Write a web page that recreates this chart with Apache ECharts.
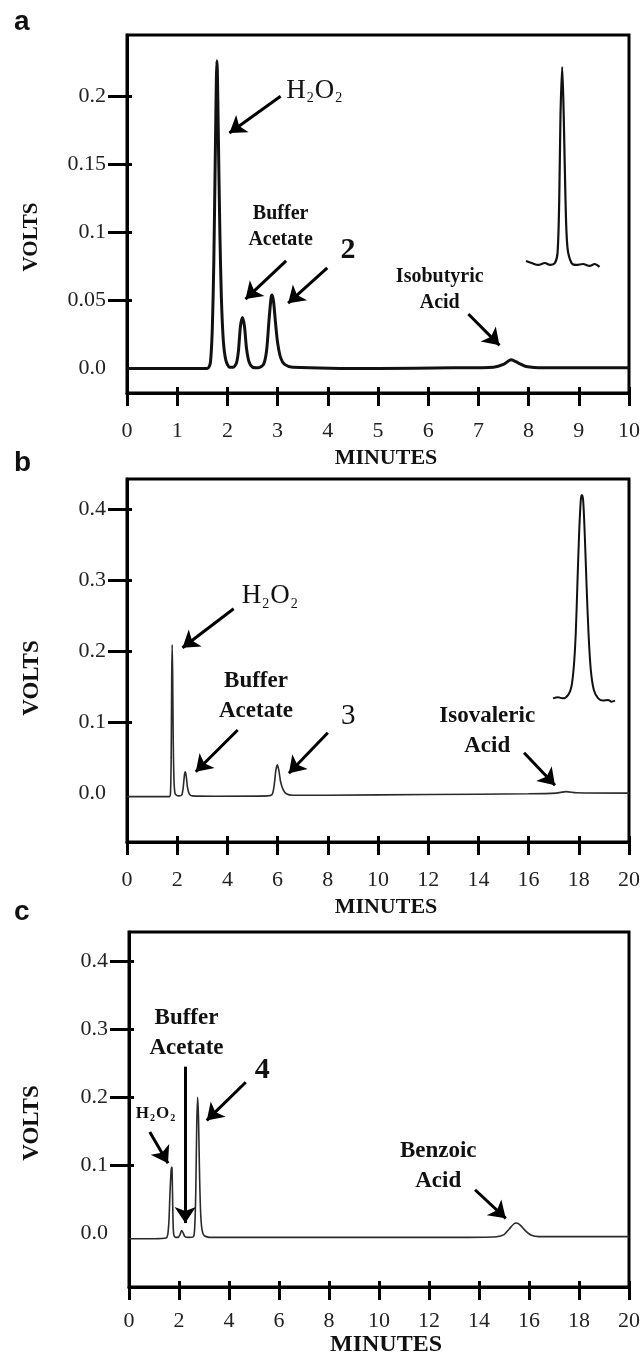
<!DOCTYPE html>
<html>
<head>
<meta charset="utf-8">
<script src="https://cdn.jsdelivr.net/npm/echarts@6/dist/echarts.min.js"></script>
<style>
  html, body { margin: 0; padding: 0; background: #fff; }
  #chart { width: 643px; height: 1354px; }
</style>
</head>
<body>
<div id="chart"></div>
<script>
// chromatograms, [minutes, volts]
var traceA = [[0,0.000],[1.0,0.000],[1.60,0.000],[1.66,0.004],[1.70,0.03],[1.73,0.08],[1.76,0.16],[1.78,0.212],[1.79,0.226],[1.80,0.219],[1.82,0.17],[1.85,0.10],[1.88,0.052],[1.92,0.02],[1.97,0.006],[2.04,0.001],[2.12,0.001],[2.18,0.004],[2.22,0.013],[2.26,0.031],[2.30,0.0375],[2.34,0.031],[2.38,0.015],[2.43,0.005],[2.50,0.001],[2.62,0.0005],[2.72,0.003],[2.78,0.013],[2.83,0.036],[2.87,0.052],[2.89,0.054],[2.92,0.049],[2.96,0.033],[3.00,0.019],[3.06,0.008],[3.14,0.003],[3.30,0.001],[5.0,0.000],[6.5,0.0005],[7.3,0.001],[7.5,0.003],[7.65,0.0065],[7.8,0.004],[7.95,0.0015],[8.3,0.0005],[10,0.0005]];
var traceB = [[0,-0.005],[1.0,-0.005],[1.68,-0.005],[1.73,-0.002],[1.76,0.05],[1.78,0.16],[1.80,0.209],[1.82,0.165],[1.84,0.08],[1.87,0.02],[1.91,0.0],[1.97,-0.003],[2.06,-0.004],[2.18,-0.003],[2.24,0.008],[2.29,0.026],[2.32,0.030],[2.36,0.024],[2.41,0.008],[2.48,-0.001],[2.6,-0.004],[3.5,-0.0045],[5.6,-0.004],[5.78,-0.002],[5.86,0.01],[5.93,0.032],[5.99,0.040],[6.05,0.032],[6.12,0.016],[6.22,0.005],[6.35,-0.001],[6.6,-0.003],[8,-0.003],[12,-0.002],[16,-0.001],[17.1,0.0],[17.5,0.002],[17.9,0.0005],[20,0.0]];
var traceC = [[0,-0.008],[1.0,-0.008],[1.48,-0.007],[1.55,-0.002],[1.60,0.02],[1.64,0.06],[1.68,0.09],[1.70,0.097],[1.72,0.096],[1.74,0.06],[1.76,0.02],[1.79,-0.002],[1.86,-0.006],[1.96,-0.006],[2.04,-0.002],[2.10,0.004],[2.16,0.001],[2.24,-0.005],[2.40,-0.006],[2.58,-0.005],[2.63,0.01],[2.67,0.06],[2.71,0.16],[2.745,0.200],[2.78,0.17],[2.82,0.09],[2.86,0.035],[2.91,0.008],[3.0,-0.003],[3.3,-0.006],[8,-0.006],[13,-0.006],[14.7,-0.005],[15.0,-0.002],[15.2,0.006],[15.4,0.014],[15.5,0.015],[15.65,0.012],[15.85,0.004],[16.1,-0.003],[16.4,-0.005],[20,-0.005]];

// zoomed insets (relative units, baseline 0, peak 100)
var insetA = [[0,1],[7.6,0],[16.6,-1],[25.6,0],[32.3,-1],[39,0],[42.6,5],[44.9,32],[46.6,75],[48.9,100],[51,75],[53.4,32],[56,8],[61.5,0],[68,-1],[77,-0.5],[86,-1.5],[92.7,-0.5],[99.4,-2]];
var insetB = [[0,0.8],[8.1,1.3],[16.2,0.8],[24.3,2.4],[29.7,6.5],[33.5,16],[36.7,32.5],[39.4,57],[42.1,81],[44.8,97.5],[46.4,100],[48.6,97.5],[51.3,80],[54,57],[57.3,32.5],[61,14.6],[65.9,4.9],[72.9,0.8],[81,-0.3],[89.1,0],[94.5,-0.8],[100,-0.3]];

// tick values / labels
var yTicksA = [0, 0.05, 0.1, 0.15, 0.2];
var yLabelsA = ['0.0', '0.05', '0.1', '0.15', '0.2'];
var yTicksBC = [0, 0.1, 0.2, 0.3, 0.4];
var yLabelsBC = ['0.0', '0.1', '0.2', '0.3', '0.4'];

// arrows [x1, y1, x2, y2] in minutes / volts
var arrowsA = [[3.06,0.200,2.04,0.173],[3.17,0.079,2.36,0.051],[3.99,0.074,3.21,0.048],[6.80,0.040,7.42,0.017]];
var arrowsB = [[4.25,0.260,2.21,0.205],[4.41,0.089,2.74,0.030],[8.00,0.085,6.45,0.028],[15.82,0.057,17.05,0.011]];
var arrowsC = [[2.25,0.245,2.25,0.015],[4.67,0.222,3.11,0.166],[0.83,0.149,1.56,0.103],[13.84,0.064,15.07,0.022]];

// peak labels [text, x, y, kind]
var labelsA = [['h2o2',3.17,0.204,'formulaBig'],['Buffer\nAcetate',3.06,0.104,'nameA'],['2',4.40,0.087,'num'],['Isobutyric\nAcid',6.23,0.058,'nameA']];
var labelsB = [['h2o2',4.57,0.278,'formulaBig'],['Buffer\nAcetate',5.14,0.137,'name'],['3',8.81,0.108,'numThin'],['Isovaleric\nAcid',14.35,0.088,'name']];
var labelsC = [['h2o2',1.08,0.176,'formulaSmall'],['Buffer\nAcetate',2.30,0.294,'name'],['4',5.33,0.240,'num'],['Benzoic\nAcid',12.37,0.099,'name']];

var SERIF = '"Liberation Serif", "Times New Roman", serif';

var panels = [
  {top: 35,  height: 358, left: 127, xMax: 10, xStep: 1, yMin: -0.018, yMax: 0.245, ticks: yTicksA,  tickLabels: yLabelsA,  trace: traceA, width: 3,   color: '#111', arrows: arrowsA, labels: labelsA, labelGap: 27},
  {top: 479, height: 363, left: 127, xMax: 20, xStep: 2, yMin: -0.069, yMax: 0.443, ticks: yTicksBC, tickLabels: yLabelsBC, trace: traceB, width: 1.6, color: '#2a2a2a', arrows: arrowsB, labels: labelsB, labelGap: 27},
  {top: 932, height: 355, left: 129, xMax: 20, xStep: 2, yMin: -0.079, yMax: 0.443, ticks: yTicksBC, tickLabels: yLabelsBC, trace: traceC, width: 1.6, color: '#2a2a2a', arrows: arrowsC, labels: labelsC, labelGap: 23}
];

var labelKinds = {
  formulaBig:   {fs: 27, sub: 14, bold: 'normal', pos: 'right'},
  formulaSmall: {fs: 17, sub: 10, bold: 'bold',   pos: 'inside'},
  nameA:        {fs: 20, lh: 26, bold: 'bold',    pos: 'inside'},
  name:         {fs: 23, lh: 30, bold: 'bold',    pos: 'inside'},
  num:          {fs: 30, lh: 30, bold: 'bold',    pos: 'inside'},
  numThin:      {fs: 29, lh: 30, bold: 'normal',  pos: 'inside'}
};

function makeLabel(l) {
  var k = labelKinds[l[3]];
  var item = {coord: [l[1], l[2]], value: 0};
  if (l[0] === 'h2o2') {
    item.label = {
      formatter: '{m|H}{s|2}{m|O}{s|2}',
      position: k.pos, distance: 0,
      rich: {
        m: {fontSize: k.fs, lineHeight: k.fs + 3, fontFamily: SERIF, fontWeight: k.bold, color: '#111'},
        s: {fontSize: k.sub, lineHeight: k.sub, padding: [Math.round(k.fs * 0.6), 1, 0, 1], fontFamily: SERIF, fontWeight: k.bold, color: '#111'}
      }
    };
  } else {
    item.label = {
      formatter: l[0], position: k.pos, distance: 0,
      fontSize: k.fs, lineHeight: k.lh, fontWeight: k.bold, fontFamily: SERIF, color: '#111', align: 'center'
    };
  }
  return item;
}

var tickStyle = {color: '#000', width: 3};
var grids = [], xAxes = [], yAxes = [], series = [], graphic = [];

panels.forEach(function (p, i) {
  grids.push({left: p.left, right: 12, top: p.top, height: p.height, show: true, borderColor: '#000', borderWidth: 3});
  // main x axis with outside ticks and labels
  xAxes.push({gridIndex: i, type: 'value', min: 0, max: p.xMax, interval: p.xStep, position: 'bottom',
    axisLine: {show: true, onZero: false, lineStyle: tickStyle},
    axisTick: {show: true, length: 13, lineStyle: tickStyle},
    axisLabel: {margin: p.labelGap, fontFamily: SERIF, fontSize: 22, color: '#222'},
    splitLine: {show: false}});
  // inner tick stubs
  xAxes.push({gridIndex: i, type: 'value', min: 0, max: p.xMax, interval: p.xStep, position: 'bottom',
    axisLine: {show: false, onZero: false}, axisTick: {show: true, inside: true, length: 6, lineStyle: tickStyle},
    axisLabel: {show: false}, splitLine: {show: false}});
  var tickVals = p.ticks.filter(function (v) { return v !== 0; });
  yAxes.push({gridIndex: i, type: 'value', min: p.yMin, max: p.yMax, position: 'left',
    axisLine: {show: true, onZero: false, lineStyle: tickStyle},
    axisTick: {show: true, length: 19, customValues: tickVals, lineStyle: tickStyle},
    axisLabel: {customValues: p.ticks, margin: 21, fontFamily: SERIF, fontSize: 22, color: '#222',
      formatter: function (v) { var k = p.ticks.indexOf(v); return k >= 0 ? p.tickLabels[k] : ''; }},
    splitLine: {show: false}});
  yAxes.push({gridIndex: i, type: 'value', min: p.yMin, max: p.yMax, position: 'left',
    axisLine: {show: false, onZero: false}, axisTick: {show: true, inside: true, length: 5, customValues: tickVals, lineStyle: tickStyle},
    axisLabel: {show: false}, splitLine: {show: false}});

  series.push({
    type: 'line', xAxisIndex: 2 * i, yAxisIndex: 2 * i, data: p.trace,
    showSymbol: false, smooth: 0.25, clip: false,
    lineStyle: {color: p.color, width: p.width}, z: 3,
    markLine: {
      silent: true, symbol: ['none', 'arrow'], symbolSize: 16, animation: false,
      lineStyle: {color: '#000', width: 3, type: 'solid'}, label: {show: false},
      emphasis: {disabled: true},
      data: p.arrows.map(function (a) { return [{coord: [a[0], a[1]]}, {coord: [a[2], a[3]]}]; })
    },
    markPoint: {
      silent: true, symbol: 'circle', symbolSize: 0, animation: false,
      label: {show: true, color: '#111'},
      data: p.labels.map(makeLabel)
    }
  });
});

// insets
var insetBoxes = [
  {left: 526, width: 74, top: 67, height: 196, data: insetA, width2: 2.2},
  {left: 553, width: 62, top: 495, height: 205, data: insetB, width2: 2}
];
insetBoxes.forEach(function (b, j) {
  var gi = 3 + j;
  grids.push({left: b.left, width: b.width, top: b.top, height: b.height, show: false});
  xAxes.push({gridIndex: gi, type: 'value', min: 0, max: 100, show: false});
  yAxes.push({gridIndex: gi, type: 'value', min: 0, max: 100, show: false});
  series.push({type: 'line', xAxisIndex: 6 + j, yAxisIndex: 6 + j, data: b.data,
    showSymbol: false, smooth: 0.3, clip: false, lineStyle: {color: '#111', width: b.width2}});
});

// panel letters and axis titles
var letters = [['a', 22], ['b', 463], ['c', 912]];
letters.forEach(function (l) {
  graphic.push({type: 'text', x: 14, y: l[1], style: {text: l[0], font: 'bold 28px "Liberation Sans", Arial, sans-serif',
    fill: '#111', textAlign: 'left', textVerticalAlign: 'middle'}});
});
var voltsY = [[237, 21], [678, 23], [1123, 23]];
voltsY.forEach(function (v) {
  graphic.push({type: 'text', x: 32, y: v[0], rotation: Math.PI / 2,
    style: {text: 'VOLTS', font: 'bold ' + v[1] + 'px ' + SERIF, fill: '#111', textAlign: 'center', textVerticalAlign: 'middle'}});
});
var minutesY = [[458, 22], [907, 22], [1345, 24]];
minutesY.forEach(function (m) {
  graphic.push({type: 'text', x: 386, y: m[0],
    style: {text: 'MINUTES', font: 'bold ' + m[1] + 'px ' + SERIF, fill: '#111', textAlign: 'center', textVerticalAlign: 'middle'}});
});

var myChart = echarts.init(document.getElementById('chart'));
var option = {
  animation: false,
  backgroundColor: '#fff',
  grid: grids,
  xAxis: xAxes,
  yAxis: yAxes,
  series: series,
  graphic: graphic
};
myChart.setOption(option);
</script>
</body>
</html>
